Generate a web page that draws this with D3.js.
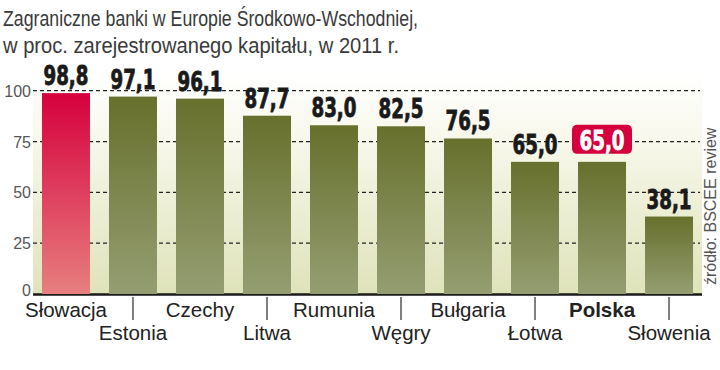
<!DOCTYPE html>
<html><head><meta charset="utf-8">
<script src="https://cdn.jsdelivr.net/npm/d3@7"></script>
<style>html,body{margin:0;padding:0;background:#fff;} svg{display:block;}</style>
</head><body>
<svg id="c" width="720" height="370"></svg>
<script>
const categories = ["Słowacja","Estonia","Czechy","Litwa","Rumunia","Węgry","Bułgaria","Łotwa","Polska","Słowenia"];
const values = [98.8, 97.1, 96.1, 87.7, 83.0, 82.5, 76.5, 65.0, 65.0, 38.1];
const valueLabels = ["98,8","97,1","96,1","87,7","83,0","82,5","76,5","65,0","65,0","38,1"];
const yTicks = [0, 25, 50, 75, 100];
const titleLines = ["Zagraniczne banki w Europie Środkowo-Wschodniej,", "w proc. zarejestrowanego kapitału, w 2011 r."];
const sourceText = "źródło: BSCEE review";
const redBar = "Słowacja";
const boxedLabel = "Polska";

const svg = d3.select("#c");
const defs = svg.append("defs");
function grad(id, stops){
  const g = defs.append("linearGradient").attr("id", id).attr("x1",0).attr("y1",0).attr("x2",0).attr("y2",1);
  stops.forEach(s => g.append("stop").attr("offset", s[0]).attr("stop-color", s[1]));
}
grad("bg", [[0,"#ffffff"],[0.25,"#f9f9ef"],[1,"#dfe3b9"]]);
grad("olive", [[0,"#67702c"],[1,"#959e72"]]);
grad("red", [[0,"#d6003d"],[1,"#e77f7f"]]);

const x = d3.scaleBand().domain(categories).range([33, 702]).paddingInner(0.2836).paddingOuter(0.134);
const y = d3.scaleLinear().domain([0, 100]).range([294, 90.7]);

// background
svg.append("rect").attr("x", 33).attr("y", 72).attr("width", 669).attr("height", 223).attr("fill", "url(#bg)");

// title
titleLines.forEach((t, i) => {
  svg.append("text").attr("x", 3).attr("y", i === 0 ? 26 : 53)
    .attr("font-family", "Liberation Sans, Arial, sans-serif").attr("font-size", 22.5)
    .attr("fill", "#3a3a3a").text(t)
    .attr("textLength", i === 0 ? 415 : 396).attr("lengthAdjust", "spacingAndGlyphs");
});

// grid lines
const grid = svg.append("g");
yTicks.filter(v => v > 0).forEach(v => {
  grid.append("line").attr("x1", 33).attr("x2", 700).attr("y1", y(v)).attr("y2", y(v))
    .attr("stroke", "#222").attr("stroke-width", 1.2).attr("stroke-dasharray", "4,3");
});

// y axis labels
const yAxis = d3.axisLeft(y).tickValues(yTicks).tickSize(0).tickPadding(0).tickFormat(d3.format("d"));
const ya = svg.append("g").attr("transform", "translate(31,0)").call(yAxis);
ya.select(".domain").remove();
ya.selectAll("text").attr("font-family", "Liberation Sans, Arial, sans-serif").attr("font-size", 16)
  .attr("fill", "#555").attr("dy", (d) => d === 0 ? "0.1em" : "0.35em");

// baseline
svg.append("line").attr("x1", 33).attr("x2", 702).attr("y1", y(0)+0.5).attr("y2", y(0)+0.5)
  .attr("stroke", "#1a1a1a").attr("stroke-width", 2.5);

// bars
svg.append("g").selectAll("rect").data(categories).join("rect")
  .attr("x", d => x(d)).attr("width", x.bandwidth())
  .attr("y", (d, i) => y(values[i])).attr("height", (d, i) => y(0) - y(values[i]))
  .attr("fill", d => d === redBar ? "url(#red)" : "url(#olive)");

// value labels
const vl = svg.append("g");
categories.forEach((c, i) => {
  const cx = x(c) + x.bandwidth() / 2;
  const by = y(values[i]) - 8;
  const boxed = c === boxedLabel;
  if (boxed) {
    vl.append("rect").attr("x", cx - 30).attr("y", by - 29).attr("width", 60).attr("height", 29)
      .attr("rx", 5).attr("fill", "#d5003c");
  }
  vl.append("g").attr("transform", `translate(${cx},${boxed ? by - 4 : by}) scale(0.78,1)`)
    .append("text").attr("text-anchor", "middle")
    .attr("font-family", "DejaVu Sans Condensed, DejaVu Sans, sans-serif").attr("font-weight", "bold")
    .attr("font-size", 26).attr("fill", boxed ? "#fff" : "#1a1a1a")
    .attr("stroke", boxed ? "#fff" : "#1a1a1a").attr("stroke-width", 0.8)
    .text(valueLabels[i]);
});

// x ticks and labels
const xl = svg.append("g");
categories.forEach((c, i) => {
  const cx = x(c) + x.bandwidth() / 2;
  const row2 = i % 2 === 1;
  if (row2) {
    xl.append("line").attr("x1", cx).attr("x2", cx).attr("y1", 297).attr("y2", 320)
      .attr("stroke", "#555").attr("stroke-width", 1.5);
  }
  xl.append("text").attr("x", cx).attr("y", row2 ? 340 : 317).attr("text-anchor", "middle")
    .attr("font-family", "Liberation Sans, Arial, sans-serif").attr("font-size", 20.5)
    .attr("font-weight", c === boxedLabel ? "bold" : "normal")
    .attr("fill", "#222").text(c);
});

// source
svg.append("text").attr("transform", "translate(716,285) rotate(-90)")
  .attr("font-family", "Liberation Sans, Arial, sans-serif").attr("font-size", 16)
  .attr("fill", "#555").text(sourceText);
</script>
</body></html>
